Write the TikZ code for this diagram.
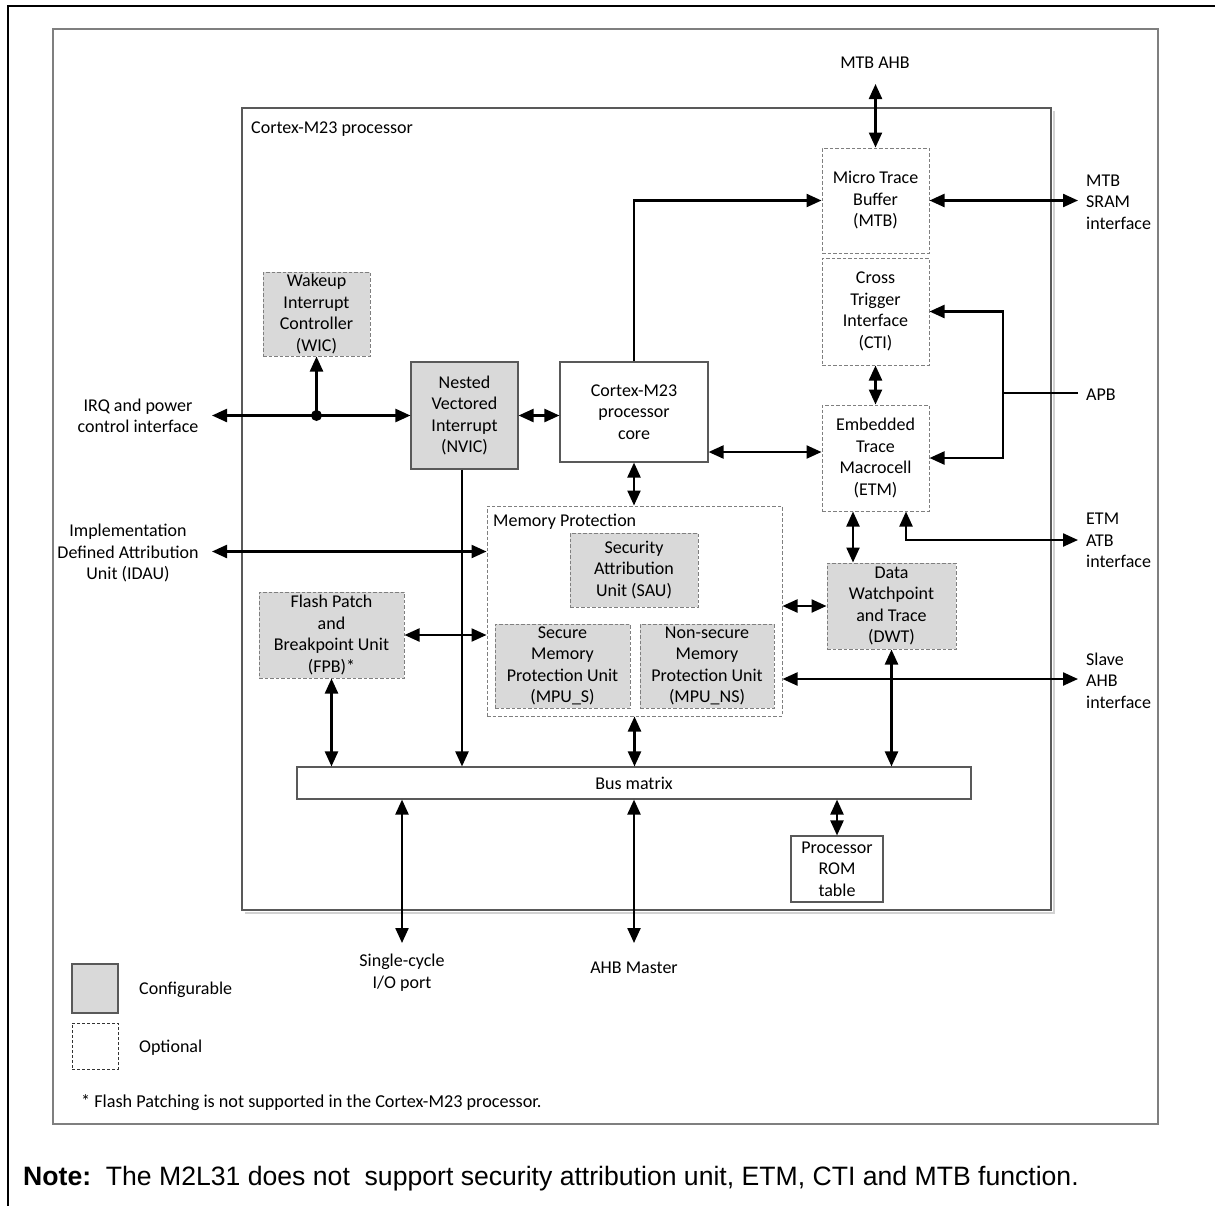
\documentclass[tikz,border=0pt]{standalone}
\usepackage{fontspec}
\setmainfont{Carlito}
\newfontfamily\arialfont{Liberation Sans}
\usetikzlibrary{arrows.meta,calc}
\definecolor{cfill}{HTML}{D9D9D9}
\definecolor{dcol}{HTML}{7F7F7F}
\definecolor{bcol}{HTML}{595959}
\tikzset{
  lbl/.style={font=\fontsize{18}{21.5}\selectfont, inner sep=0pt, align=center},
  txt/.style={lbl, yshift=-1.5pt},
  lbll/.style={font=\fontsize{18}{21.5}\selectfont, inner sep=0pt, align=left, anchor=west, yshift=-1.5pt},
  blk/.style={lbl, draw=bcol, line width=1.1pt, fill=white},
  optbox/.style={lbl, draw=dcol, line width=1pt, dash pattern=on 3.5pt off 2pt, fill=white},
  confbox/.style={lbl, draw=dcol, line width=1pt, dash pattern=on 3.5pt off 2pt, fill=cfill},
  conn/.style={line width=2.3pt, -{Triangle[length=15pt,width=13pt]}},
  dbl/.style={line width=2.3pt, {Triangle[length=15pt,width=13pt]}-{Triangle[length=15pt,width=13pt]}},
  plain/.style={line width=2.3pt}
}
\begin{document}
\begin{tikzpicture}[x=1pt,y=-1pt]
\useasboundingbox (0,0) rectangle (1215,1205);
% outer black frame (open on right and bottom)
\draw[line width=2pt] (8,1210) -- (8,6) -- (1220,6);
% gray diagram frame
\draw[dcol, line width=1.3pt] (53,29) rectangle (1158,1124);
% processor box with faint shadow
\draw[gray!35, line width=2pt] (1053.5,111) -- (1053.5,912.5) -- (245,912.5);
\draw[bcol, line width=1.1pt, fill=white] (242,108) rectangle (1051,910);
\node[lbll] (proc) at (251,128) {Cortex-M23 processor};

% blocks
\node[optbox, minimum width=107pt, minimum height=105pt] (mtb) at (875.5,200.5) {\raisebox{-1.5pt}{\parbox{100pt}{\centering Micro Trace\\Buffer\\(MTB)}}};
\node[optbox, minimum width=107pt, minimum height=107pt] (cti) at (875.5,311.5) {\raisebox{-1.5pt}{\parbox{100pt}{\centering Cross\\Trigger\\Interface\\(CTI)}}};
\node[optbox, minimum width=107pt, minimum height=106pt] (etm) at (875.5,458) {\raisebox{-1.5pt}{\parbox{100pt}{\centering Embedded\\Trace\\Macrocell\\(ETM)}}};
\node[blk, minimum width=148pt, minimum height=100pt] (core) at (634,412) {\raisebox{-1.5pt}{\parbox{140pt}{\centering Cortex-M23\\processor\\core}}};
\node[blk, fill=cfill, minimum width=107pt, minimum height=107pt] (nvic) at (464.5,415.5) {\raisebox{-1.5pt}{\parbox{100pt}{\centering Nested\\Vectored\\Interrupt\\(NVIC)}}};
\node[confbox, minimum width=107pt, minimum height=84pt] (wic) at (316.5,314) {\raisebox{-1.5pt}{\parbox{100pt}{\centering Wakeup\\Interrupt\\Controller\\(WIC)}}};
\node[optbox, minimum width=295pt, minimum height=210pt] (memp) at (634.5,611) {};
\node[lbll] (memplbl) at (493,520) {Memory Protection};
\node[confbox, minimum width=128pt, minimum height=74pt] (sau) at (634,570) {\raisebox{-1.5pt}{\parbox{120pt}{\centering Security\\Attribution\\Unit (SAU)}}};
\node[confbox, minimum width=135pt, minimum height=84pt] (mpus) at (562.5,666) {\raisebox{-1.5pt}{\parbox{130pt}{\centering Secure\\Memory\\Protection Unit\\(MPU\_S)}}};
\node[confbox, minimum width=134pt, minimum height=84pt] (mpuns) at (707,666) {\raisebox{-1.5pt}{\parbox{130pt}{\centering Non-secure\\Memory\\Protection Unit\\(MPU\_NS)}}};
\node[confbox, minimum width=145pt, minimum height=86pt] (fpb) at (331.5,635) {\raisebox{-1.5pt}{\parbox{140pt}{\centering Flash Patch\\and\\Breakpoint Unit\\(FPB)*}}};
\node[confbox, minimum width=129pt, minimum height=86pt] (dwt) at (891.5,606) {\raisebox{-1.5pt}{\parbox{124pt}{\centering Data\\Watchpoint\\and Trace\\(DWT)}}};
\node[blk, minimum width=674pt, minimum height=32pt] (bus) at (634,783) {\raisebox{-1.5pt}{Bus matrix}};
\node[blk, minimum width=92pt, minimum height=66pt] (rom) at (837,869) {\raisebox{-1.5pt}{\parbox{88pt}{\centering Processor\\ROM\\table}}};

% external labels
\node[txt] (lmtbahb) at (875,61) {MTB AHB};
\node[lbll] (lsram) at (1086,200.5) {MTB\\SRAM\\interface};
\node[lbll] (lapb) at (1086,393) {APB};
\node[lbll] (latb) at (1086,539) {ETM\\ATB\\interface};
\node[lbll] (lslave) at (1086,679) {Slave\\AHB\\interface};
\node[txt] (lirq) at (138,414.5) {IRQ and power\\control interface};
\node[txt] (lidau) at (128,551.5) {Implementation\\Defined Attribution\\Unit (IDAU)};
\node[txt] (lio) at (402,971) {Single-cycle\\I/O port};
\node[txt] (lahbm) at (634,966) {AHB Master};

% connector end points
\coordinate (ahbtop) at (875.5,84);
\coordinate (sram) at (1078,200.5);
\coordinate (apb) at (1078,393);
\coordinate (apbj) at (1003,393);
\coordinate (atb) at (1078,540);
\coordinate (sahb) at (1078,679);
\coordinate (irq) at (212,415.5);
\coordinate (irqdot) at (316.5,415.5);
\coordinate (idau) at (212,551.5);
\coordinate (io) at (402,943);
\coordinate (ahbm) at (634,943);
\coordinate (ce) at ([yshift=-40pt]core.east);
\coordinate (nv) at ([xshift=-2.5pt]nvic.south);
\coordinate (e1) at ([xshift=-22.5pt]etm.south);
\coordinate (e2) at ([xshift=30.5pt]etm.south);

% connectors
\draw[dbl] (ahbtop) -- (mtb.north);
\draw[dbl] (mtb.east) -- (sram);
\draw[conn] (core.north) |- (mtb.west);
\draw[dbl] (cti.south) -- (etm.north);
\draw[plain] (apb) -- (apbj);
\draw[conn] (apbj) |- (cti.east);
\draw[conn] (apbj) |- (etm.east);
\draw[dbl] (ce) -- (ce -| etm.west);
\draw[dbl] (nvic.east) -- (nvic.east -| core.west);
\draw[dbl] (irq) -- (nvic.west);
\fill (irqdot) circle (5.5pt);
\draw[conn] (irqdot) -- (wic.south);
\draw[conn] (nv) -- (nv |- bus.north);
\draw[dbl] (core.south) -- (core.south |- memp.north);
\draw[dbl] (idau) -- (idau -| memp.west);
\draw[dbl] (fpb.east) -- (fpb.east -| memp.west);
\draw[dbl] (fpb.south) -- (fpb.south |- bus.north);
\draw[dbl] (memp.south) -- (memp.south |- bus.north);
\draw[dbl] (e1) -- (e1 |- dwt.north);
\draw[dbl] (e2) |- (atb);
\draw[dbl] (memp.east |- dwt.west) -- (dwt.west);
\draw[dbl] (sahb -| memp.east) -- (sahb);
\draw[dbl] (dwt.south) -- (dwt.south |- bus.north);
\draw[dbl] (rom.north) -- (rom.north |- bus.south);
\draw[dbl] (io |- bus.south) -- (io);
\draw[dbl] (ahbm |- bus.south) -- (ahbm);

% legend
\node[draw=bcol, line width=1.1pt, fill=cfill, minimum width=46pt, minimum height=49pt, inner sep=0pt] (legc) at (95,988.5) {};
\node[lbll] (legct) at (139,988) {Configurable};
\node[draw=black!80, line width=0.9pt, dash pattern=on 3pt off 2pt, minimum width=46pt, minimum height=46pt, inner sep=0pt] (lego) at (95,1046) {};
\node[lbll] (legot) at (139,1046) {Optional};
\node[anchor=west, inner sep=0pt, font=\fontsize{18.2}{21}\selectfont] (foot) at (81,1103) {* Flash Patching is not supported in the Cortex-M23 processor.};

% note
\node[anchor=west, inner sep=0pt, font=\arialfont\fontsize{26.6}{30}\selectfont] (note) at (23,1179) {\textbf{Note:}\ \ The M2L31 does not\ \ support security attribution unit, ETM, CTI and MTB function.};
\end{tikzpicture}
\end{document}
